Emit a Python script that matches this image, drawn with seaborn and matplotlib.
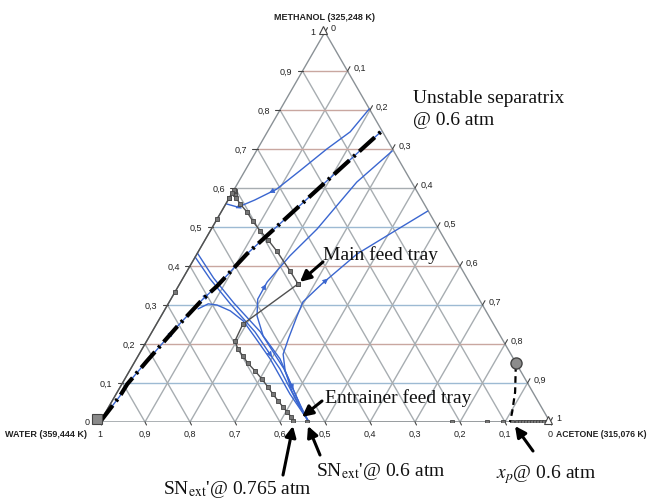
import numpy as np
import matplotlib
matplotlib.use("Agg")
import matplotlib.pyplot as plt
import seaborn as sns

sns.set_style("white")
plt.rcParams["mathtext.fontset"] = "stix"

# ---- data: compositions as (methanol, acetone) mole fractions; water = 1 - both
sep_methanol = [0.000, 0.067, 0.097, 0.156, 0.244, 0.315, 0.349, 0.431, 0.567, 0.700, 0.744]
sep_acetone  = [0.000, 0.011, 0.012, 0.026, 0.049, 0.071, 0.086, 0.111, 0.172, 0.232, 0.252]

curveA_methanol = [0.803, 0.744, 0.700, 0.644, 0.597, 0.569, 0.551, 0.559]
curveA_acetone  = [0.197, 0.184, 0.154, 0.122, 0.094, 0.059, 0.031, 0.002]

curveB_methanol = [0.695, 0.615, 0.495, 0.426, 0.359, 0.315, 0.272, 0.221, 0.162, 0.090, 0.033, 0.005]
curveB_acetone  = [0.302, 0.263, 0.235, 0.209, 0.192, 0.193, 0.213, 0.252, 0.319, 0.382, 0.432, 0.459]

curveC_methanol = [0.541, 0.482, 0.431, 0.354, 0.308, 0.272, 0.213, 0.174, 0.131, 0.079, 0.028, 0.005]
curveC_acetone  = [0.458, 0.403, 0.356, 0.316, 0.297, 0.302, 0.312, 0.320, 0.346, 0.387, 0.435, 0.459]

curveD1_methanol = [0.423, 0.367, 0.303, 0.231, 0.136, 0.046, 0.005]
curveD1_acetone  = [0.000, 0.061, 0.138, 0.229, 0.332, 0.417, 0.459]
curveD2_methanol = [0.433, 0.369, 0.305, 0.231, 0.136, 0.046, 0.005]
curveD2_acetone  = [0.000, 0.068, 0.145, 0.241, 0.341, 0.421, 0.459]

curveE_methanol = [0.290, 0.303, 0.300, 0.285, 0.259, 0.218, 0.162, 0.072, 0.005]
curveE_acetone  = [0.073, 0.089, 0.110, 0.147, 0.189, 0.235, 0.297, 0.386, 0.459]

# column composition profiles
extr_methanol = [0.003, 0.013, 0.026, 0.038, 0.054, 0.072, 0.090, 0.110, 0.131, 0.151, 0.169, 0.187, 0.208, 0.251, 0.354]
extr_acetone  = [0.427, 0.418, 0.403, 0.388, 0.369, 0.348, 0.328, 0.305, 0.279, 0.253, 0.233, 0.213, 0.196, 0.192, 0.263]

rect_methanol = [0.354, 0.387, 0.438, 0.467, 0.490, 0.515, 0.538, 0.559, 0.574, 0.585, 0.592, 0.595, 0.588, 0.575]
rect_acetone  = [0.263, 0.229, 0.174, 0.140, 0.111, 0.082, 0.058, 0.032, 0.016, 0.008, 0.005, 0.001, 0.000, 0.000]

edge_methanol = [0.575, 0.520, 0.333, 0.000]
edge_acetone  = [0.000, 0.000, 0.000, 0.000]

base_acetone = [0.460, 0.782, 0.860, 0.896, 0.916, 0.927, 0.933, 0.940, 0.947, 0.953,
                0.960, 0.967, 0.973, 0.980, 0.987, 0.993]

dist_methanol = [0.151, 0.146, 0.077, 0.026, 0.000]
dist_acetone  = [0.849, 0.851, 0.884, 0.903, 0.911]

tick_values = [0.0, 0.1, 0.2, 0.3, 0.4, 0.5, 0.6, 0.7, 0.8, 0.9, 1.0]
tick_labels = ["0", "0,1", "0,2", "0,3", "0,4", "0,5", "0,6", "0,7", "0,8", "0,9", "1"]

H = np.sqrt(3) / 2


def tern(m, a):
    m = np.asarray(m, float)
    a = np.asarray(a, float)
    return a + m / 2, m * H


def px(x, y):
    """figure pixel (from top-left) -> data coords"""
    return (x - 100) / 450.0, (423 - y) / 450.0


fig = plt.figure(figsize=(6.48, 5.02), dpi=100)
ax = fig.add_axes([100 / 648, 79 / 502, 450 / 648, 390 / 502])
ax.set_xlim(0, 1)
ax.set_ylim(0, H)
ax.axis("off")

grid_grey = "#a7adb1"
red_tint = "#c9a7a0"
blue_tint = "#9dbad3"
hcolors = {1: blue_tint, 2: red_tint, 3: blue_tint, 4: red_tint, 5: blue_tint,
           6: grid_grey, 7: red_tint, 8: red_tint, 9: red_tint}

for k in range(1, 10):
    v = k / 10
    x, y = tern([v, v], [0, 1 - v])
    ax.plot(x, y, color=hcolors[k], lw=1.0, zorder=1)
    x, y = tern([0, 1 - v], [v, v])
    ax.plot(x, y, color=grid_grey, lw=1.0, zorder=1)
    x, y = tern([0, 1 - v], [1 - v, 0])
    ax.plot(x, y, color=grid_grey, lw=1.0, zorder=1)

# border
x, y = tern([0, 0, 1, 0], [0, 1, 0, 0])
ax.plot(x, y, color="#8a9196", lw=1.0, zorder=2)

# ticks + labels
tick_font = dict(family="Liberation Sans", fontsize=6.5, color="#222222")
tl = 5 / 450
for v, lab in zip(tick_values, tick_labels):
    # left edge: methanol
    x, y = tern(v, 0)
    ax.plot([x - tl, x], [y, y], color="#444444", lw=0.8, clip_on=False)
    ax.text(x - 10 / 450, y, lab, ha="right", va="center", **tick_font)
    # right edge: acetone
    x, y = tern(1 - v, v)
    ax.plot([x, x + tl * 0.5], [y, y + tl * H], color="#444444", lw=0.8, clip_on=False)
    ax.text(x + 6 / 450, y + 4 / 450, lab, ha="left", va="center", **tick_font)
    # bottom edge: water
    x, y = tern(0, 1 - v)
    ax.plot([x, x + tl * 0.3], [y, y - tl * 0.6], color="#444444", lw=0.8, clip_on=False)
    ax.text(x, y - 11 / 450, lab, ha="center", va="center", **tick_font)

bold_font = dict(family="Liberation Sans", fontsize=6.5, fontweight="bold", color="#222222")
ax.text(*px(324, 18), "METHANOL (325,248 K)", ha="center", va="center", **bold_font)
ax.text(*px(87, 434), "WATER (359,444 K)", ha="right", va="center", **bold_font)
ax.text(*px(646, 434), "ACETONE (315,076 K)", ha="right", va="center",
        family="Liberation Sans", fontsize=6.2, fontweight="bold", color="#222222")

blue = "#3a66d0"

# separatrix underlying blue curve + thick dash-dot black
sx, sy = tern(sep_methanol, sep_acetone)
sns.lineplot(x=sx, y=sy, sort=False, estimator=None, color=blue, lw=1.0, ax=ax, zorder=3)
ax.plot(sx, sy, color="black", lw=3.0, dashes=(5, 1.3, 0.6, 1.3), dash_capstyle="butt", zorder=6)

for cm, ca in [(curveA_methanol, curveA_acetone), (curveB_methanol, curveB_acetone),
               (curveC_methanol, curveC_acetone), (curveD1_methanol, curveD1_acetone),
               (curveD2_methanol, curveD2_acetone), (curveE_methanol, curveE_acetone)]:
    x, y = tern(cm, ca)
    sns.lineplot(x=x, y=y, sort=False, estimator=None, color=blue, lw=1.0, ax=ax, zorder=3)


def flow_arrow(cm, ca, i, t=0.5, forward=True):
    x, y = tern(cm, ca)
    p0 = np.array([x[i], y[i]])
    p1 = np.array([x[i + 1], y[i + 1]])
    mid = p0 + t * (p1 - p0)
    d = (p1 - p0) / np.linalg.norm(p1 - p0)
    if not forward:
        d = -d
    ax.annotate("", xy=tuple(mid + d * 0.008), xytext=tuple(mid - d * 0.008),
                arrowprops=dict(arrowstyle="-|>", color=blue, lw=0.6, mutation_scale=8,
                                shrinkA=0, shrinkB=0), zorder=4)


flow_arrow(curveA_methanol, curveA_acetone, 4, 0.2)
flow_arrow(curveA_methanol, curveA_acetone, 5, 0.95)
flow_arrow(curveB_methanol, curveB_acetone, 4, 0.3, forward=False)
flow_arrow(curveC_methanol, curveC_acetone, 2, 0.9, forward=False)
flow_arrow(curveD1_methanol, curveD1_acetone, 3, 0.6)
flow_arrow(curveD2_methanol, curveD2_acetone, 4, 0.5)
flow_arrow(sep_methanol, sep_acetone, 3, 0.8)
flow_arrow(sep_methanol, sep_acetone, 5, 0.2)

# column profiles
prof = dict(color="#505050", lw=1.0, marker="s", markersize=3, markerfacecolor="#777777",
            markeredgecolor="#444444", markeredgewidth=0.6, zorder=5)
x, y = tern(extr_methanol, extr_acetone)
ax.plot(x, y, **prof)
x, y = tern(rect_methanol, rect_acetone)
ax.plot(x, y, **prof)
x, y = tern(edge_methanol, edge_acetone)
ax.plot(x, y, **prof)
x, y = tern(np.zeros(len(base_acetone)), base_acetone)
ax.plot(x, y, **prof)
x, y = tern([0.0, 0.0], [base_acetone[-1], 1.0])
ax.plot(x, y, color="#303030", lw=1.6, zorder=5)

# distillate dashed curve and circle
x, y = tern(dist_methanol, dist_acetone)
ax.plot(x[1:], y[1:], color="black", lw=1.6, ls=(0, (3, 2)), zorder=6)
ax.plot(x[0], y[0], marker="o", markersize=8, markerfacecolor="#8c8c8c",
        markeredgecolor="#444444", markeredgewidth=1.0, zorder=7, clip_on=False)

# vertex markers
ax.plot(*px(97, 420), marker="s", markersize=7.5, markerfacecolor="#8a8a8a",
        markeredgecolor="#444444", markeredgewidth=0.8, clip_on=False, zorder=7)
ax.plot(*px(323, 31), marker="^", markersize=6, markerfacecolor="white",
        markeredgecolor="#444444", markeredgewidth=0.8, clip_on=False, zorder=7)
ax.plot(*px(548, 421), marker="^", markersize=6, markerfacecolor="white",
        markeredgecolor="#444444", markeredgewidth=0.8, clip_on=False, zorder=7)

# annotations
serif = dict(family="Liberation Serif", fontsize=14, color="#111111")
ax.text(*px(413, 103), "Unstable separatrix", ha="left", va="baseline", **serif)
ax.text(*px(413, 125), "@ 0.6 atm", ha="left", va="baseline", **serif)
ax.text(*px(323, 260), "Main feed tray", ha="left", va="baseline", **serif)
ax.text(*px(325, 403), "Entrainer feed tray", ha="left", va="baseline", **serif)
ax.text(*px(163, 494), r"SN$_\mathrm{ext}$'@ 0.765 atm", ha="left", va="baseline", **serif)
ax.text(*px(316, 476), r"SN$_\mathrm{ext}$'@ 0.6 atm", ha="left", va="baseline", **serif)
ax.text(*px(496, 478), r"$x_p$@ 0.6 atm", ha="left", va="baseline", **serif)

arrow_kw = dict(arrowstyle="-|>", color="black", lw=2.2, mutation_scale=16, shrinkA=0, shrinkB=0)
for tail, head in [((323, 263), (300, 283)), ((322, 402), (302, 418)),
                   ((283, 476), (293, 427)), ((320, 456), (308, 427)),
                   ((533, 452), (515, 427))]:
    ax.annotate("", xy=px(*head), xytext=px(*tail), arrowprops=arrow_kw,
                annotation_clip=False, zorder=8)

fig.savefig("out.png", dpi=100, facecolor="white")
